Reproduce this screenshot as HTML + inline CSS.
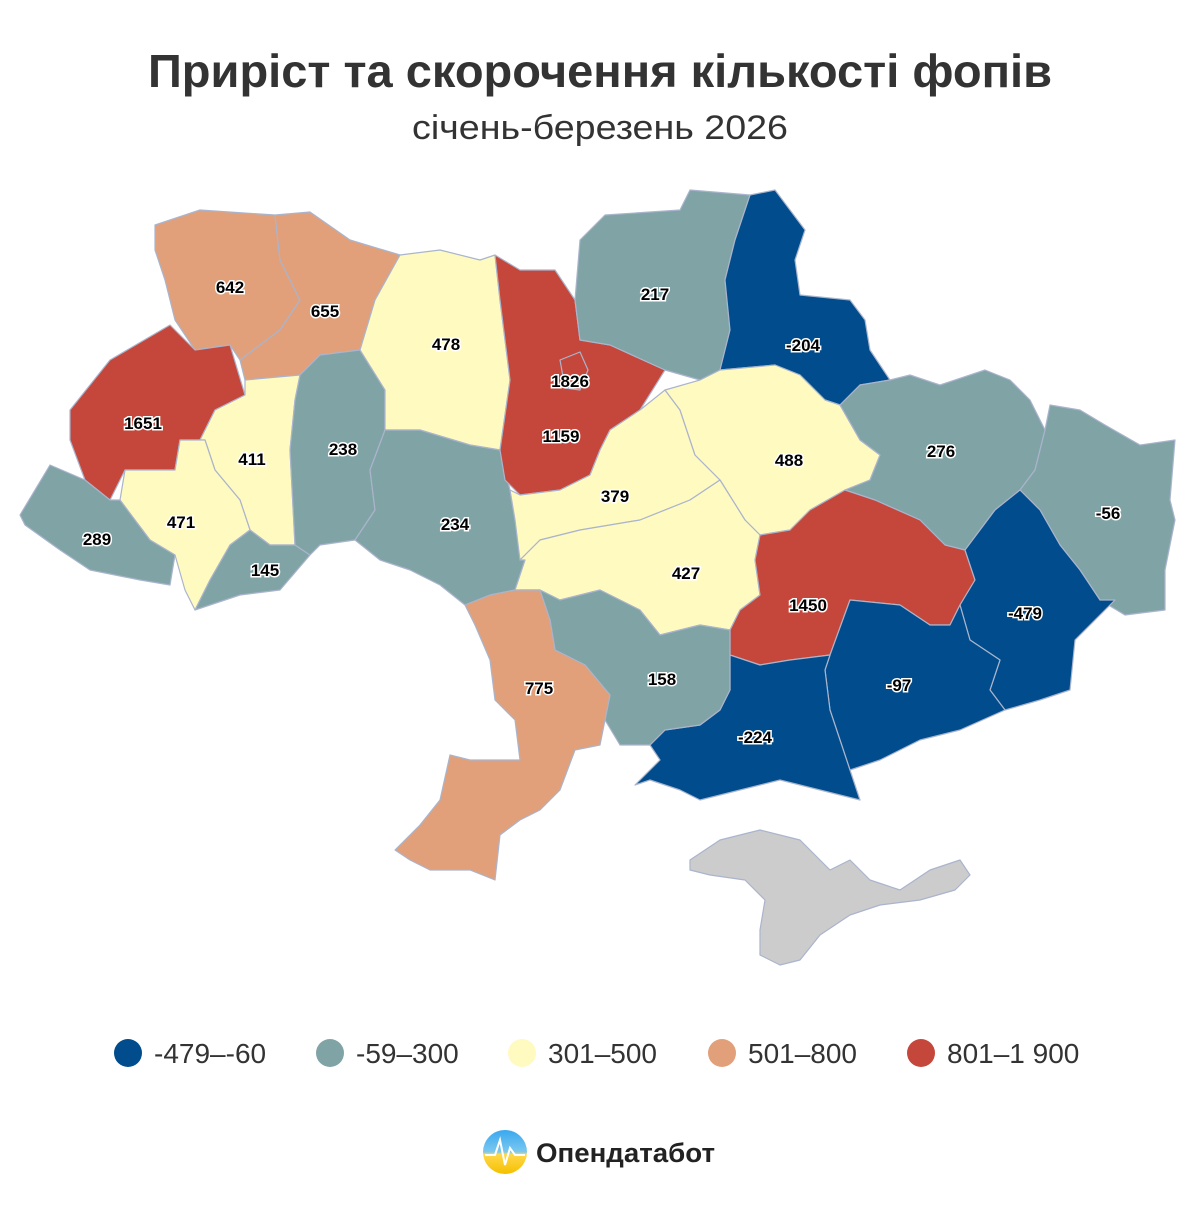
<!DOCTYPE html>
<html><head><meta charset="utf-8"><style>
body{margin:0;background:#fff;width:1200px;height:1200px;overflow:hidden;font-family:"Liberation Sans",sans-serif}
</style></head><body>
<svg width="1200" height="1200" viewBox="0 0 1200 1200" xmlns="http://www.w3.org/2000/svg">
<defs><linearGradient id="lg" x1="0" y1="0" x2="0" y2="1"><stop offset="0" stop-color="#3aa8f0"/><stop offset="0.5" stop-color="#7cc8f0"/><stop offset="0.55" stop-color="#ffd84a"/><stop offset="1" stop-color="#f5c000"/></linearGradient></defs>
<text x="600" y="87" text-anchor="middle" font-size="46" font-weight="bold" fill="#333" textLength="904" lengthAdjust="spacingAndGlyphs">Приріст та скорочення кількості фопів</text>
<text x="600" y="139" text-anchor="middle" font-size="34" fill="#333" textLength="376" lengthAdjust="spacingAndGlyphs">січень-березень 2026</text>
<g stroke="#aab4cc" stroke-width="1.2" stroke-linejoin="round">
<polygon fill="#e2a07a" points="155,225 200,210 275,215 280,260 300,300 280,330 240,360 230,345 195,350 175,320 165,280 155,250"/>
<polygon fill="#e2a07a" points="275,215 310,212 350,240 400,255 375,300 360,350 320,355 300,375 245,380 240,360 280,330 300,300 280,260"/>
<polygon fill="#c5473b" points="70,410 110,360 170,325 195,350 230,345 245,395 215,410 200,440 180,440 175,470 125,470 110,500 85,480 70,440"/>
<polygon fill="#fffac0" points="200,440 215,410 245,395 245,380 300,375 295,400 290,450 295,545 270,545 250,530 240,500 215,470 205,440"/>
<polygon fill="#fffac0" points="125,470 175,470 180,440 205,440 215,470 240,500 250,530 230,545 210,580 195,610 185,590 175,555 150,540 120,500"/>
<polygon fill="#80a4a6" points="20,515 50,465 85,480 110,500 120,500 150,540 175,555 170,585 140,580 90,570 60,550 25,525"/>
<polygon fill="#80a4a6" points="195,610 210,580 230,545 250,530 270,545 295,545 310,555 280,590 240,595 210,605"/>
<polygon fill="#80a4a6" points="300,375 320,355 360,350 385,390 385,430 370,470 375,510 355,540 320,545 310,555 295,545 290,450 295,400"/>
<polygon fill="#fffac0" points="400,255 440,250 480,260 495,255 500,300 505,340 510,380 500,450 470,445 420,430 385,430 385,390 360,350 375,300"/>
<polygon fill="#80a4a6" points="385,430 420,430 470,445 500,450 510,490 515,520 525,560 515,590 490,595 465,605 440,585 410,570 380,560 355,540 375,510 370,470"/>
<polygon fill="#c5473b" points="495,255 520,270 555,270 575,300 580,340 610,345 665,370 640,410 610,430 600,450 590,475 560,490 520,495 505,480 500,450 510,380 505,340 500,300"/>
<polygon fill="#80a4a6" points="575,300 580,240 605,215 680,210 690,190 750,195 735,240 725,280 730,330 720,370 700,380 665,370 610,345 580,340"/>
<polygon fill="#004c8c" points="750,195 775,190 790,210 805,230 795,260 800,295 850,300 865,320 870,350 890,380 860,385 840,405 825,400 800,375 775,365 720,370 730,330 725,280 735,240"/>
<polygon fill="#fffac0" points="520,495 560,490 590,475 600,450 610,430 640,410 665,390 680,410 695,455 720,480 690,500 640,520 580,530 540,540 520,560 515,520 510,490"/>
<polygon fill="#fffac0" points="665,390 700,380 720,370 775,365 800,375 825,400 840,405 860,440 880,455 870,480 845,490 810,510 790,530 760,535 745,520 720,480 695,455 680,410"/>
<polygon fill="#80a4a6" points="840,405 860,385 890,380 910,375 940,385 985,370 1010,380 1030,400 1045,430 1035,470 1020,490 995,510 980,530 965,550 945,545 920,520 875,500 845,490 870,480 880,455 860,440"/>
<polygon fill="#80a4a6" points="1045,430 1050,405 1080,410 1105,425 1140,445 1175,440 1170,500 1175,520 1165,570 1165,610 1125,615 1100,600 1080,570 1060,545 1040,510 1020,490 1035,470"/>
<polygon fill="#fffac0" points="520,560 540,540 580,530 640,520 690,500 720,480 745,520 760,535 755,560 760,595 740,610 730,630 700,625 660,635 640,610 600,590 560,600 540,590 515,590 525,560"/>
<polygon fill="#c5473b" points="760,535 790,530 810,510 845,490 875,500 920,520 945,545 965,550 975,580 960,605 950,625 930,625 900,605 850,600 830,655 790,660 760,665 730,655 730,630 740,610 760,595 755,560"/>
<polygon fill="#004c8c" points="965,550 980,530 995,510 1020,490 1040,510 1060,545 1080,570 1100,600 1115,600 1075,640 1070,690 1040,700 1005,710 990,690 1000,660 970,640 960,605 975,580"/>
<polygon fill="#004c8c" points="850,600 900,605 930,625 950,625 960,605 970,640 1000,660 990,690 1005,710 960,730 920,740 880,760 850,770 840,740 830,710 825,670 830,655"/>
<polygon fill="#004c8c" points="730,655 760,665 790,660 830,655 825,670 830,710 840,740 850,770 860,800 820,790 780,780 740,790 700,800 680,790 650,780 635,785 660,760 650,745 665,730 700,725 720,710 730,690"/>
<polygon fill="#80a4a6" points="520,590 540,590 560,600 600,590 640,610 660,635 700,625 730,630 730,655 730,690 720,710 700,725 665,730 650,745 620,745 605,720 610,695 585,665 555,650 550,620"/>
<polygon fill="#e2a07a" points="465,605 490,595 515,590 540,590 550,620 555,650 585,665 610,695 605,720 600,745 575,750 560,790 540,810 520,820 500,835 495,880 470,870 430,870 410,860 395,850 420,825 440,800 450,755 470,760 495,760 520,760 515,720 495,700 490,660 475,625"/>
<polygon fill="#cccccc" points="690,860 720,840 760,830 800,840 830,870 850,860 870,880 900,890 930,870 960,860 970,875 955,890 920,900 880,905 850,915 820,935 800,960 780,965 760,955 760,930 765,900 745,880 710,875 690,870"/>
<polygon fill="none" points="560,360 580,352 588,370 580,390 565,388"/>
</g>
<g font-size="17" font-weight="bold" text-anchor="middle" fill="#000" stroke="#fff" stroke-width="3" paint-order="stroke">
<text x="230" y="293">642</text><text x="325" y="317">655</text><text x="143" y="429">1651</text>
<text x="252" y="465">411</text><text x="181" y="528">471</text><text x="97" y="545">289</text>
<text x="265" y="576">145</text><text x="343" y="455">238</text><text x="446" y="350">478</text>
<text x="455" y="530">234</text><text x="570" y="387">1826</text><text x="561" y="442">1159</text>
<text x="655" y="300">217</text><text x="803" y="351">-204</text><text x="615" y="502">379</text>
<text x="789" y="466">488</text><text x="941" y="457">276</text><text x="1108" y="519">-56</text>
<text x="686" y="579">427</text><text x="808" y="611">1450</text><text x="1025" y="619">-479</text>
<text x="899" y="691">-97</text><text x="755" y="743">-224</text><text x="662" y="685">158</text>
<text x="539" y="694">775</text>
</g>
<g font-size="28" fill="#333">
<circle cx="128" cy="1053" r="14" fill="#004c8c"/><text x="154" y="1063">-479–-60</text>
<circle cx="330" cy="1053" r="14" fill="#80a4a6"/><text x="356" y="1063">-59–300</text>
<circle cx="522" cy="1053" r="14" fill="#fffac0"/><text x="548" y="1063">301–500</text>
<circle cx="722" cy="1053" r="14" fill="#e2a07a"/><text x="748" y="1063">501–800</text>
<circle cx="921" cy="1053" r="14" fill="#c5473b"/><text x="947" y="1063">801–1 900</text>
</g>
<circle cx="505" cy="1152" r="22" fill="url(#lg)"/>
<polyline points="485,1155 495,1155 500,1140 505,1165 510,1148 515,1155 525,1155" fill="none" stroke="#fff" stroke-width="2"/>
<text x="536" y="1162" font-size="27" font-weight="bold" fill="#222" textLength="179" lengthAdjust="spacingAndGlyphs">Опендатабот</text>
</svg>
</body></html>
